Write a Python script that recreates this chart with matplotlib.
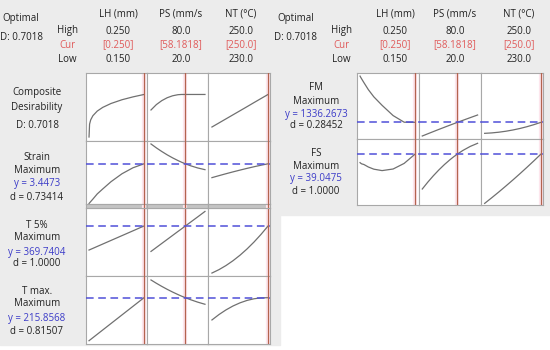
import matplotlib
matplotlib.use("Agg")
import matplotlib.pyplot as plt
from matplotlib.patches import Rectangle

plt.rcParams['font.family'] = ['Open Sans', 'DejaVu Sans']

# factor settings
factors = ["LH (mm)", "PS (mm/s", "NT (°C)"]
high_vals = ["0.250", "80.0", "250.0"]
cur_vals = ["[0.250]", "[58.1818]", "[250.0]"]
low_vals = ["0.150", "20.0", "230.0"]
cur_settings = [0.25, 58.1818, 250.0]

# grids of the factors
lh_x = [0.15, 0.151, 0.153, 0.157, 0.165, 0.175, 0.19, 0.21, 0.23, 0.25]
ps_x = [20, 26, 32, 38, 44, 50, 54, 58.1818, 64, 72, 80]
nt_x = [230, 232.5, 235, 237.5, 240, 242.5, 245, 247.5, 250]

# composite desirability
comp_lh = [0.0, 0.212, 0.282, 0.351, 0.428, 0.489, 0.553, 0.615, 0.662, 0.7018]
comp_ps = [0.446, 0.535, 0.600, 0.648, 0.680, 0.698, 0.7018, 0.7018, 0.7018, 0.7018, 0.7018]
comp_nt = [0.165, 0.232, 0.299, 0.366, 0.433, 0.500, 0.568, 0.635, 0.7018]

# Strain
strain_lh = [1.84, 1.866, 1.917, 2.018, 2.229, 2.430, 2.723, 3.045, 3.287, 3.4473]
strain_ps = [4.25, 4.091, 3.945, 3.810, 3.688, 3.578, 3.511, 3.4473, 3.368, 3.278, 3.21]
strain_nt = [2.887, 2.967, 3.045, 3.120, 3.192, 3.262, 3.328, 3.390, 3.4473]

# T 5%
t5_lh = [345.7, 345.94, 346.42, 347.38, 349.31, 351.71, 355.32, 360.12, 364.93, 369.74]
t5_ps = [344.3, 348.3, 352.3, 356.3, 360.3, 364.3, 366.9, 369.74, 373.6, 378.9, 384.3]
t5_nt = [322.7, 326.09, 330.19, 335.0, 340.52, 346.76, 353.71, 361.36, 369.74]

# T max.
tmax_lh = [172.86, 173.29, 174.15, 175.87, 179.31, 183.61, 190.06, 198.66, 207.26, 215.86]
tmax_ps = [233.6, 230.28, 227.17, 224.24, 221.52, 218.99, 217.41, 215.86, 213.86, 211.40, 209.3]
tmax_nt = [193.6, 199.0, 203.65, 207.56, 210.71, 213.13, 214.78, 215.69, 215.86]

# FM
fm_lh = [1706, 1698, 1683, 1654, 1598, 1540, 1472, 1390, 1337, 1336.27]
fm_ps = [1226.7, 1244.5, 1262, 1279.5, 1296.5, 1313.5, 1324.5, 1336.27, 1352, 1373.5, 1394.7]
fm_nt = [1248, 1251.4, 1257.0, 1264.8, 1274.7, 1286.8, 1301.1, 1317.6, 1336.27]

# FS
fs_lh = [35.6, 35.4, 35.1, 34.85, 33.86, 32.98, 32.41, 33.05, 35.29, 39.05]
fs_ps = [25.05, 27.80, 30.34, 32.68, 34.82, 36.75, 37.92, 39.05, 40.46, 42.08, 43.33]
fs_nt = [19.3, 21.54, 23.84, 26.22, 28.65, 31.15, 33.72, 36.35, 39.05]

W, H = 550, 350
GRAY = "#ececec"
CURVE = "#707070"
FRAME = "#a8a8a8"
REDLINE = "#b4644f"
PINK = "#fde6ed"
BLUE = "#3c3cc8"
DASH = "#5050d8"
RED_TXT = "#e05a5a"

xlims = [(0.1445, 0.2560), (15.9, 83.7), (228.7, 250.7)]


def box(x0, y0, x1, y1):
    return [x0 / W, 1 - y1 / H, (x1 - x0) / W, (y1 - y0) / H]


def txt(fig, x, y, s, color="#222222", ha="center"):
    fig.text(x / W, 1 - y / H, s, ha=ha, va="center", fontsize=7, color=color)


def cell(fig, rect, xs, ys, xlim, ylim, cur, opt=None, face="white"):
    ax = fig.add_axes(box(*rect))
    ax.set_facecolor(face)
    ax.set_xlim(xlim)
    ax.set_ylim(ylim)
    ax.set_xticks([])
    ax.set_yticks([])
    for sp in ax.spines.values():
        sp.set_color(FRAME)
        sp.set_linewidth(0.8)
    ax.axvline(cur, color=PINK, lw=3.0, zorder=1)
    ax.axvline(cur, color=REDLINE, lw=0.9, zorder=3)
    if xs is not None:
        ax.plot(xs, ys, color=CURVE, lw=0.9, zorder=2)
    if opt is not None:
        ax.axhline(opt, color=DASH, lw=1.1, ls=(0, (5, 3)), zorder=4)
    return ax


fig = plt.figure(figsize=(5.5, 3.5), dpi=100, facecolor="white")
fig.add_artist(Rectangle((0, 1 - 215 / H), 1, 215 / H, transform=fig.transFigure,
                         color=GRAY, zorder=0))
fig.add_artist(Rectangle((0, 1 - 345 / H), 280 / W, 345 / H, transform=fig.transFigure,
                         color=GRAY, zorder=0))

grids = [lh_x, ps_x, nt_x]

# left panel
left_cols = [86, 147.3, 208.3, 270]
left_rows = [
    ((73, 141), [comp_lh, comp_ps, comp_nt], (-0.066, 1.056), None),
    ((141, 204), [strain_lh, strain_ps, strain_nt], (1.82, 4.37), 3.4473),
    ((208, 276), [t5_lh, t5_ps, t5_nt], (319.74, 387.74), 369.7404),
    ((276, 344), [tmax_lh, tmax_ps, tmax_nt], (169.56, 237.56), 215.8568),
]
for (y0, y1), curves, ylim, opt in left_rows:
    for j in range(3):
        cell(fig, (left_cols[j], y0, left_cols[j + 1], y1), grids[j], curves[j],
             xlims[j], ylim, cur_settings[j], opt)
# separator band
for j in range(3):
    cell(fig, (left_cols[j], 204, left_cols[j + 1], 208), None, None,
         xlims[j], (0, 1), cur_settings[j], face="#c4c4c4")

# right panel
right_cols = [357, 418.5, 481, 543]
right_rows = [
    ((73, 139), [fm_lh, fm_ps, fm_nt], (1202.7, 1730.7), 1336.2673),
    ((139, 205), [fs_lh, fs_ps, fs_nt], (18.65, 45.05), 39.0475),
]
for (y0, y1), curves, ylim, opt in right_rows:
    for j in range(3):
        cell(fig, (right_cols[j], y0, right_cols[j + 1], y1), grids[j], curves[j],
             xlims[j], ylim, cur_settings[j], opt)

# headers
for ox, hx, cols in [(21, 67, [118, 181, 241]), (296, 341, [395, 455, 519])]:
    txt(fig, ox, 19, "Optimal")
    txt(fig, ox, 37, "D: 0.7018")
    txt(fig, hx, 31, "High")
    txt(fig, hx, 45, "Cur", RED_TXT)
    txt(fig, hx, 60, "Low")
    for j in range(3):
        txt(fig, cols[j], 14, factors[j])
        txt(fig, cols[j], 31, high_vals[j])
        txt(fig, cols[j], 45, cur_vals[j], RED_TXT)
        txt(fig, cols[j], 60, low_vals[j])

# row labels
txt(fig, 37, 93, "Composite")
txt(fig, 37, 108, "Desirability")
txt(fig, 37, 125, "D: 0.7018")

labels = [
    (37, [157, 170, 183, 197], "Strain", "y = 3.4473", "d = 0.73414"),
    (37, [225, 238, 252, 264], "T 5%", "y = 369.7404", "d = 1.0000"),
    (37, [291, 304, 318, 332], "T max.", "y = 215.8568", "d = 0.81507"),
    (316, [87, 101, 114, 126], "FM", "y = 1336.2673", "d = 0.28452"),
    (316, [153, 167, 179, 192], "FS", "y = 39.0475", "d = 1.0000"),
]
for x, ys, name, yv, dv in labels:
    txt(fig, x, ys[0], name)
    txt(fig, x, ys[1], "Maximum")
    txt(fig, x, ys[2], yv, BLUE)
    txt(fig, x, ys[3], dv)

fig.savefig("out.png", dpi=100, facecolor="white")
